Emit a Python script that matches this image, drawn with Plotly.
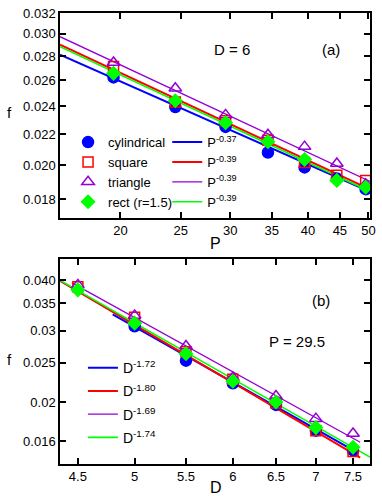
import numpy as np
import plotly.graph_objects as go

# panel (a): f vs P at D = 6
P = [19.5, 24.5, 29.5, 34.5, 39.5, 44.5, 49.5]
cyl_P = [0.02623, 0.02393, 0.02251, 0.0208, 0.01986, 0.0192, 0.01857]
sq_P = [0.02713, 0.0243, 0.02294, 0.0216, 0.02016, 0.01938, 0.01908]
tri_P = [0.02746, 0.02537, 0.02336, 0.02197, 0.02118, 0.0201, 0.01886]
rect_P = [0.02656, 0.0244, 0.0228, 0.0215, 0.02035, 0.01908, 0.01868]

# fitted power laws (end points)
fitP_x = [16, 50.3]
fitP_cyl = [0.02813, 0.01842]
fitP_sq = [0.02902, 0.01856]
fitP_tri = [0.02974, 0.01902]
fitP_rect = [0.02884, 0.01844]
fitP_names = ["P<sup>-0.37</sup>", "P<sup>-0.39</sup>", "P<sup>-0.39</sup>", "P<sup>-0.39</sup>"]

# panel (b): f vs D at P = 29.5
D = [4.5, 5, 5.5, 6, 6.5, 7, 7.5]
D_cyl = [5, 5.5, 6, 6.5, 7, 7.5]
cyl_D = [0.03076, 0.0253, 0.02225, 0.01968, 0.0170, 0.0152]
sq_D = [0.03846, 0.03235, 0.0266, 0.02275, 0.0199, 0.0170, 0.0151]
tri_D = [0.0389, 0.0327, 0.0275, 0.0230, 0.0207, 0.0182, 0.01673]
rect_D = [0.0378, 0.0313, 0.0263, 0.0225, 0.0200, 0.0173, 0.01547]

fitD_cyl_x, fitD_cyl = [4.8, 7.5], [0.0329, 0.01522]
fitD_sq_x, fitD_sq = [4.353, 7.6], [0.0398, 0.01459]
fitD_tri_x, fitD_tri = [4.45, 7.6], [0.03934, 0.01592]
fitD_rect_x, fitD_rect = [4.353, 7.74], [0.0399, 0.01463]
fitD_names = ["D<sup>-1.72</sup>", "D<sup>-1.80</sup>", "D<sup>-1.69</sup>", "D<sup>-1.74</sup>"]

names = ["cylindrical", "square", "triangle", "rect (r=1.5)"]
colors = ["#0000ff", "#ff0000", "#9400d3", "#00ff00"]
lwidths = [2, 2, 1.3, 1.6]
symbols = ["circle", "square-open", "triangle-up-open", "diamond"]
msizes = [11, 10, 11, 10]

fig = go.Figure()

# lines first so the symbols sit on top
for ys, nm, c, w in zip([fitP_cyl, fitP_sq, fitP_tri, fitP_rect], fitP_names, colors, lwidths):
    fig.add_trace(go.Scatter(x=fitP_x, y=ys, mode="lines", name=nm, legend="legend2",
                             line=dict(color=c, width=w), xaxis="x", yaxis="y"))
for ys, nm, c, s, ms in zip([cyl_P, sq_P, tri_P, rect_P], names, colors, symbols, msizes):
    fig.add_trace(go.Scatter(x=P, y=ys, mode="markers", name=nm, legend="legend",
                             marker=dict(symbol=s, size=ms, color=c, line=dict(color=c, width=1.5)),
                             xaxis="x", yaxis="y"))

for i, (xs, ys, nm, c, w) in enumerate(zip([fitD_cyl_x, fitD_sq_x, fitD_tri_x, fitD_rect_x],
                                           [fitD_cyl, fitD_sq, fitD_tri, fitD_rect], fitD_names, colors, lwidths)):
    fig.add_trace(go.Scatter(x=xs, y=ys, mode="lines", name=nm, legend="legend3", legendgroup="d%d" % i,
                             line=dict(color=c, width=w), xaxis="x2", yaxis="y2"))
for xs, ys, c, s, ms in zip([D_cyl, D, D, D], [cyl_D, sq_D, tri_D, rect_D], colors, symbols, msizes):
    fig.add_trace(go.Scatter(x=xs, y=ys, mode="markers", showlegend=False,
                             marker=dict(symbol=s, size=ms, color=c, line=dict(color=c, width=1.5)),
                             xaxis="x2", yaxis="y2"))

ax = dict(type="log", showline=True, linecolor="black", linewidth=1.5, mirror="ticks",
          ticks="inside", ticklen=6, tickwidth=1.5, tickcolor="black", showgrid=False,
          zeroline=False, tickfont=dict(size=13, color="black"))

P_ticks = [20, 25, 30, 35, 40, 45, 50]
fP_ticks = [0.018, 0.020, 0.022, 0.024, 0.026, 0.028, 0.030, 0.032]
fP_text = ["0.018", "0.020", "0.022", "0.024", "0.026", "0.028", "0.030", "0.032"]
D_ticks = [4.5, 5, 5.5, 6, 6.5, 7, 7.5]
fD_ticks = [0.016, 0.02, 0.025, 0.03, 0.035, 0.040]
fD_text = ["0.016", "0.02", "0.025", "0.03", "0.035", "0.040"]


def label(text, xref, yref, x, y, size=15):
    return dict(text=text, xref=xref, yref=yref, x=x, y=y, showarrow=False,
                xanchor="center", yanchor="middle", font=dict(size=size))


fig.update_layout(
    width=382, height=496,
    margin=dict(l=60, r=10, t=6, b=32),
    paper_bgcolor="white", plot_bgcolor="white",
    font=dict(family="Liberation Sans, Arial, sans-serif", color="black"),
    xaxis=dict(ax, domain=[0, 1], anchor="y", range=[np.log10(16), np.log10(50.3)],
               tickvals=P_ticks, ticktext=[str(t) for t in P_ticks]),
    yaxis=dict(ax, domain=[0.5459, 1], anchor="x", range=[np.log10(0.017), np.log10(0.032)],
               tickvals=fP_ticks, ticktext=fP_text),
    xaxis2=dict(ax, domain=[0, 1], anchor="y2", range=[np.log10(4.353), np.log10(7.74)],
                tickvals=D_ticks, ticktext=["4.5", "5", "5.5", "6", "6.5", "7", "7.5"]),
    yaxis2=dict(ax, domain=[0, 0.4541], anchor="x2", range=[np.log10(0.01407), np.log10(0.045)],
                tickvals=fD_ticks, ticktext=fD_text),
    legend=dict(x=0.026, y=0.747, xanchor="left", yanchor="top", bgcolor="rgba(0,0,0,0)",
                font=dict(size=13)),
    legend2=dict(x=0.346, y=0.747, xanchor="left", yanchor="top", bgcolor="rgba(0,0,0,0)",
                 font=dict(size=13)),
    legend3=dict(x=0.074, y=0.248, xanchor="left", yanchor="top", bgcolor="rgba(0,0,0,0)",
                 font=dict(size=14), tracegroupgap=2),
    annotations=[
        label("D = 6", "x domain", "y domain", 0.554, 0.822),
        label("(a)", "x domain", "y domain", 0.875, 0.822),
        label("(b)", "x2 domain", "y2 domain", 0.843, 0.798),
        label("P = 29.5", "x2 domain", "y2 domain", 0.763, 0.596),
        label("f", "paper", "paper", -0.163, 0.7795),
        label("f", "paper", "paper", -0.163, 0.2314),
        label("P", "paper", "paper", 0.503, 0.489, 16),
        label("D", "paper", "paper", 0.503, -0.0524, 16),
    ],
)

fig.write_html("out.html", config={"displayModeBar": False},
               post_script="document.body.style.margin='0';")
